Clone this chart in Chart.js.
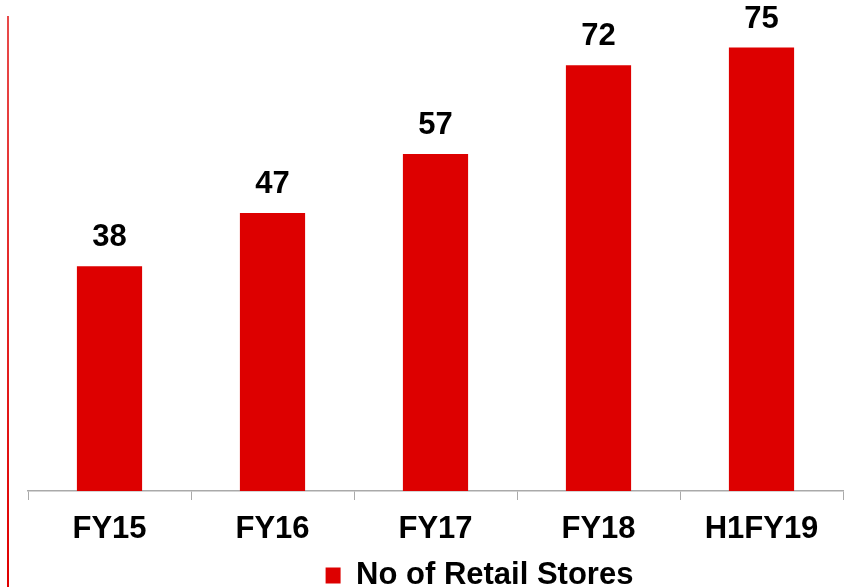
<!DOCTYPE html>
<html>
<head>
<meta charset="utf-8">
<script src="https://cdn.jsdelivr.net/npm/chart.js@4.4.1/dist/chart.umd.min.js"></script>
<style>
    html, body { margin: 0; padding: 0; background: #fff; }
    #wrap { position: relative; width: 859px; height: 587px; }
    #edge { position: absolute; left: 7px; top: 16px; width: 2px; height: 571px;
            background: linear-gradient(#e84a4a, #e00000); }
</style>
</head>
<body>
<div id="wrap">
    <div id="edge"></div>
    <canvas id="storesChart" width="859" height="587"></canvas>
</div>
<script>
const periods = ['FY15', 'FY16', 'FY17', 'FY18', 'H1FY19'];
const retailStores = [38, 47, 57, 72, 75];
const seriesName = 'No of Retail Stores';

const FONT = "'Liberation Sans', Arial, sans-serif";

// values written above each bar
const barValues = {
    id: 'barValues',
    afterDatasetsDraw(chart) {
        const ctx = chart.ctx;
        ctx.save();
        ctx.font = 'bold 31px ' + FONT;
        ctx.fillStyle = '#000';
        ctx.textAlign = 'center';
        ctx.textBaseline = 'alphabetic';
        chart.getDatasetMeta(0).data.forEach((bar, i) => {
            ctx.fillText(chart.data.datasets[0].data[i], bar.x, bar.y - 20);
        });
        ctx.restore();
    }
};

// legend sits a bit right of centre
const legendShift = {
    id: 'legendShift',
    afterLayout(chart) {
        const lg = chart.legend;
        lg.left += 44;
        lg.right += 44;
    }
};

new Chart(document.getElementById('storesChart'), {
    type: 'bar',
    data: {
        labels: periods,
        datasets: [{
            label: seriesName,
            data: retailStores,
            backgroundColor: '#dd0000',
            borderWidth: 0,
            categoryPercentage: 1,
            barPercentage: 0.4
        }]
    },
    options: {
        responsive: false,
        animation: false,
        layout: { padding: { left: 28, right: 16, top: 18, bottom: -14 } },
        scales: {
            y: { display: false, min: 0, max: 80 },
            x: {
                grid: { drawOnChartArea: false, color: '#aaaaaa', tickLength: 9, offset: true },
                border: { color: '#aaaaaa', width: 1.5 },
                ticks: { color: '#000', font: { family: FONT, size: 31, weight: 'bold', lineHeight: 1 }, padding: 14 }
            }
        },
        plugins: {
            tooltip: { enabled: false },
            legend: {
                position: 'bottom',
                labels: {
                    color: '#000',
                    font: { family: FONT, size: 31, weight: 'bold', lineHeight: 1 },
                    boxWidth: 15,
                    boxHeight: 16,
                    padding: 1
                }
            }
        }
    },
    plugins: [barValues, legendShift]
});
</script>
</body>
</html>
